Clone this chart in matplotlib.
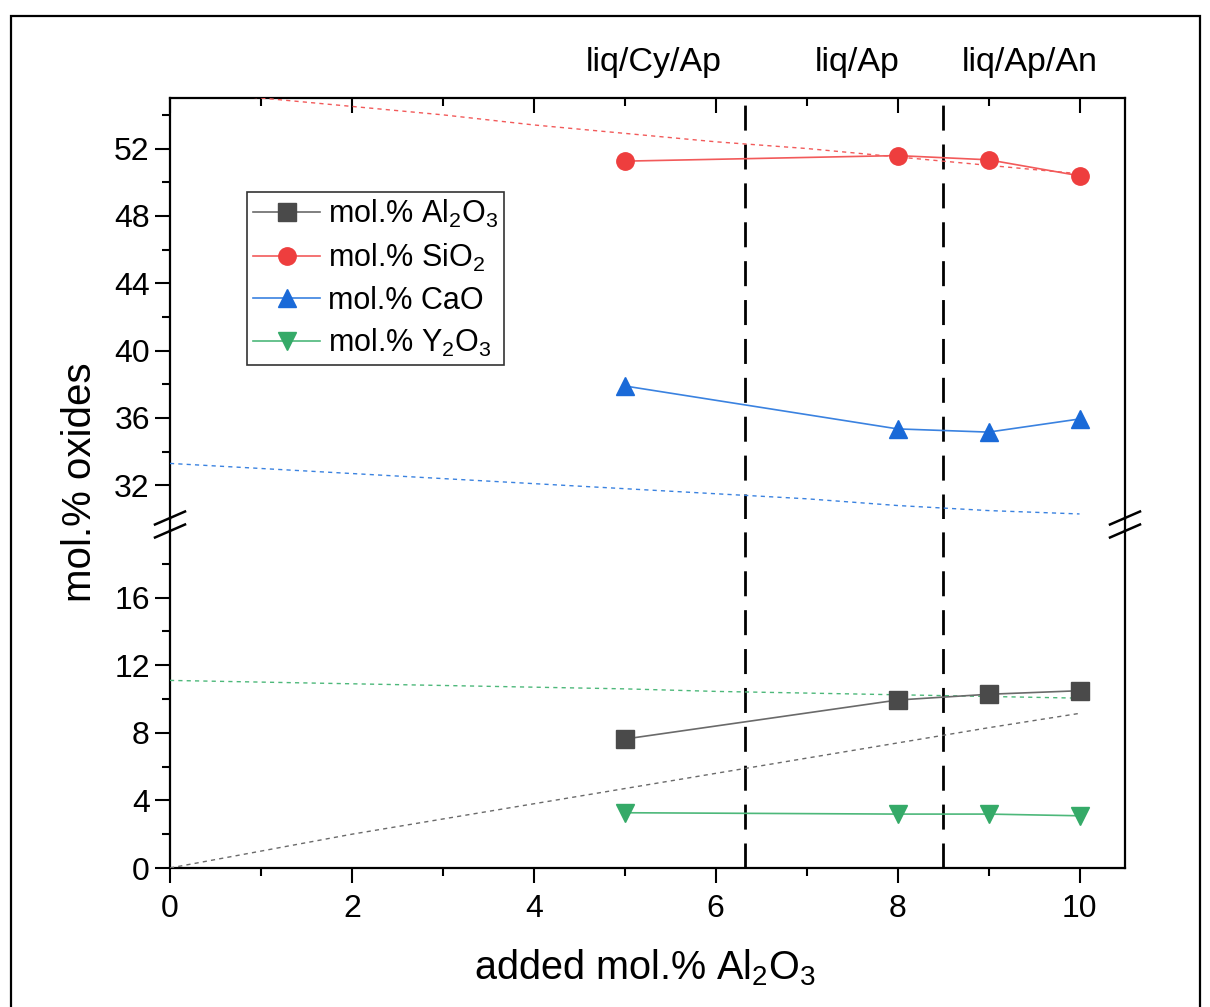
import matplotlib
matplotlib.use("Agg")
import matplotlib.pyplot as plt
import matplotlib.transforms as mtransforms
from matplotlib.lines import Line2D
from matplotlib.patches import Rectangle

plt.rcParams['font.family'] = ['Liberation Sans', 'DejaVu Sans']
plt.rcParams['mathtext.fontset'] = 'custom'
plt.rcParams['mathtext.rm'] = 'Liberation Sans'
plt.rcParams['mathtext.it'] = 'Liberation Sans'
plt.rcParams['mathtext.default'] = 'regular'

# ---- data ----
added = [5, 8, 9, 10]
al2o3 = [7.63, 9.94, 10.28, 10.49]
sio2 = [51.25, 51.58, 51.33, 50.38]
cao = [37.9, 35.35, 35.16, 35.94]
y2o3 = [3.27, 3.19, 3.19, 3.09]

calc_x = [0, 1, 2, 3, 4, 5, 6, 7, 8, 9, 10]
calc_al2o3 = [0.0, 1.0, 2.0, 2.9, 3.8, 4.7, 5.6, 6.5, 7.4, 8.3, 9.15]
calc_sio2 = [55.5, 55.0, 54.5, 54.0, 53.4, 52.9, 52.4, 52.0, 51.5, 51.0, 50.5]
calc_cao = [33.3, 33.0, 32.7, 32.4, 32.1, 31.8, 31.5, 31.2, 30.8, 30.5, 30.3]
calc_y2o3 = [11.1, 11.0, 10.9, 10.8, 10.7, 10.6, 10.45, 10.35, 10.25, 10.15, 10.05]

boundaries = [6.32, 8.5]
region_labels = ['liq/Cy/Ap', 'liq/Ap', 'liq/Ap/An']
region_label_x = [5.32, 7.55, 9.45]

series_labels = ['mol.% Al$_2$O$_3$', 'mol.% SiO$_2$', 'mol.% CaO', 'mol.% Y$_2$O$_3$']
colors = ['#4a4a4a', '#ee3e3e', '#1a6ad8', '#35aa68']
line_colors = ['#6a6a6a', '#f25a5a', '#3a82e0', '#4db87a']
markers = ['s', 'o', '^', 'v']

W, H = 1210, 1007
fig = plt.figure(figsize=(W / 100, H / 100), dpi=100)

left, right = 170 / W, 1125 / W
up_b, up_t = 1 - 519 / H, 1 - 98 / H
lo_b, lo_t = 1 - 868 / H, 1 - 530 / H

ax_up = fig.add_axes([left, up_b, right - left, up_t - up_b])
ax_lo = fig.add_axes([left, lo_b, right - left, lo_t - lo_b])

# outer frame
fig.patches.append(Rectangle((11 / W, -0.02), (1200 - 11) / W, 1 - 16 / H + 0.02,
                             transform=fig.transFigure, fill=False, lw=1.6,
                             edgecolor='black', zorder=0))

vals = [al2o3, sio2, cao, y2o3]
calcs = [calc_al2o3, calc_sio2, calc_cao, calc_y2o3]

TICK_FS = 23

for ax in (ax_up, ax_lo):
    for v, c, lc, m in zip(vals, colors, line_colors, markers):
        ax.plot(added, v, color=lc, lw=1.2, marker=m, markersize=12.5,
                markerfacecolor=c, markeredgecolor=c, zorder=4, clip_on=True)
    for cv, lc in zip(calcs, line_colors):
        ax.plot(calc_x, cv, color=lc, lw=1.0, linestyle=(0, (3, 3)), zorder=3)
    for b in boundaries:
        ax.axvline(b, color='black', lw=2.0, linestyle=(0, (9, 5)), zorder=2)
    ax.set_xlim(0, 10.5)
    ax.set_xticks([0, 2, 4, 6, 8, 10])
    ax.set_xticks([1, 3, 5, 7, 9], minor=True)
    for s in ax.spines.values():
        s.set_linewidth(1.6)
    ax.tick_params(axis='both', which='major', length=11, width=1.5, labelsize=TICK_FS)
    ax.tick_params(axis='both', which='minor', length=6, width=1.5)
    ax.tick_params(axis='y', which='both', left=True, right=False, direction='out')

ax_up.set_ylim(30, 55)
ax_up.set_yticks([32, 36, 40, 44, 48, 52])
ax_up.set_yticks([34, 38, 42, 46, 50, 54], minor=True)
ax_lo.set_ylim(0, 20)
ax_lo.set_yticks([0, 4, 8, 12, 16])
ax_lo.set_yticks([2, 6, 10, 14, 18], minor=True)

ax_up.spines['bottom'].set_visible(False)
ax_lo.spines['top'].set_visible(False)
ax_up.tick_params(axis='x', which='both', bottom=False, labelbottom=False,
                  top=True, direction='in')
ax_lo.tick_params(axis='x', which='both', top=False, bottom=True, direction='out', pad=8)

# right spine ticks inward
for ax in (ax_up, ax_lo):
    ax2 = ax.twinx()
    ax2.set_ylim(ax.get_ylim())
    ax2.set_yticks(ax.get_yticks())
    ax2.set_yticks(ax.get_yticks(minor=True), minor=True)
    ax2.tick_params(axis='y', which='major', direction='in', length=11, width=1.5, labelright=False)
    ax2.tick_params(axis='y', which='minor', direction='in', length=6, width=1.5)
    for s in ax2.spines.values():
        s.set_visible(False)
    ax2.set_zorder(ax.get_zorder() - 1)

# spine connectors across the gap
for xf in (left, right):
    fig.add_artist(Line2D([xf, xf], [lo_t, up_b], transform=fig.transFigure,
                          color='black', lw=1.6))
# break marks
dx, dy = 15 / W, 6.5 / H
for xf in (left, right):
    for yf in (1 - 518 / H, 1 - 531 / H):
        fig.add_artist(Line2D([xf - dx, xf + dx], [yf - dy, yf + dy],
                              transform=fig.transFigure, color='black', lw=1.8))

# region labels
blend = mtransforms.blended_transform_factory(ax_up.transData, fig.transFigure)
for lab, xx in zip(region_labels, region_label_x):
    ax_up.text(xx, 1 - 62 / H, lab, transform=blend,
               ha='center', va='center', fontsize=24.5)

fig.text(645 / W, 1 - 968 / H, 'added mol.% Al$_2$O$_3$', ha='center', va='center', fontsize=28.5)
fig.text(80 / W, 1 - 482 / H, 'mol.% oxides', ha='center', va='center', rotation=90, fontsize=29)

handles = [Line2D([], [], color=lc, lw=1.2, marker=m, markersize=12.5,
                  markerfacecolor=c, markeredgecolor=c)
           for c, lc, m in zip(colors, line_colors, markers)]
leg = fig.legend(handles, series_labels, loc='upper left',
                 bbox_to_anchor=(247 / W, 1 - 192 / H), bbox_transform=fig.transFigure,
                 fontsize=22, frameon=True, fancybox=False, edgecolor='black',
                 handlelength=2.2, handletextpad=0.25, labelspacing=0.38,
                 borderpad=0.2, borderaxespad=0)
leg.get_frame().set_linewidth(1.2)

fig.savefig('out.png', dpi=100)
